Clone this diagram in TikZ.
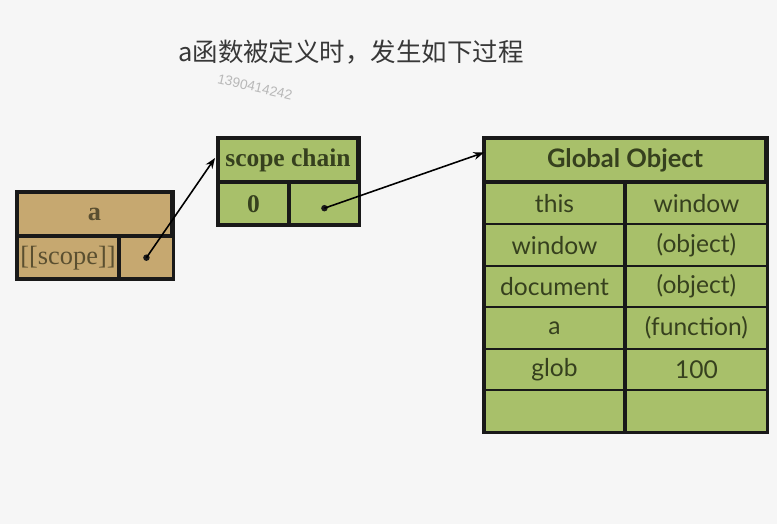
\documentclass[tikz,border=0pt]{standalone}
\usepackage{fontspec}
\setmainfont{Liberation Serif}
\newfontfamily\cjkfont{Noto Sans CJK SC}
\newfontfamily\tablefont{Lato}
\newfontfamily\markfont{Liberation Sans}
\usetikzlibrary{calc,arrows.meta,positioning}

\definecolor{bggray}{HTML}{F6F6F6}
\definecolor{tanfill}{HTML}{C6A870}
\definecolor{tantext}{HTML}{5A4F30}
\definecolor{greenfill}{HTML}{A8C06A}
\definecolor{greentext}{HTML}{36401E}

\tikzset{
    cell/.style={draw=black!90, line width=1.1pt, inner sep=0pt, minimum height=0.83cm},
    tancell/.style={cell, fill=tanfill, text=tantext},
    greencell/.style={cell, fill=greenfill, text=greentext},
    frame/.style={draw=black!90, line width=1.8pt},
    ptr/.style={-{Stealth[length=6pt,width=4.5pt]}, line width=0.9pt},
    ptrdot/.style={fill=black!90}
}

\begin{document}
\begin{tikzpicture}
    % Background and size
    \useasboundingbox[fill=bggray] (0,0) rectangle (15.54,-10.48);

    % Title
    \node[text=black!78, font=\cjkfont\fontsize{14.5}{16}\selectfont] (title) at (7.02,-1.04) {a函数被定义时，发生如下过程};
    \node[text=black!28, font=\markfont\fontsize{7.8}{9}\selectfont, rotate=-13] (mark) at (5.10,-1.74) {1390414242};

    % Function a
    \node[tancell, minimum width=3.06cm, minimum height=0.84cm, font=\bfseries\fontsize{15}{17}\selectfont] (aHead) at (1.89,-4.28) {a};
    \node[tancell, minimum width=2.00cm, font=\fontsize{15}{17}\selectfont, below right=0pt and 0pt of aHead.south west] (aName) {[[scope]]};
    \node[tancell, minimum width=1.06cm, right=0pt of aName] (aSlot) {};
    \draw[frame] (aHead.north west) rectangle (aSlot.south east);

    % Scope chain
    \node[greencell, minimum width=2.76cm, minimum height=0.84cm, font=\bfseries\fontsize{14.5}{17}\selectfont] (scHead) at (5.76,-3.20) {scope chain};
    \node[greencell, minimum width=1.38cm, font=\bfseries\fontsize{14.5}{17}\selectfont, below right=0pt and 0pt of scHead.south west] (scZero) {0};
    \node[greencell, minimum width=1.38cm, right=0pt of scZero] (scSlot) {};
    \draw[frame] (scHead.north west) rectangle (scSlot.south east);

    % Global object
    \node[greencell, minimum width=5.60cm, minimum height=0.84cm, font=\tablefont\bfseries\fontsize{14.5}{17}\selectfont] (goHead) at (12.50,-3.20) {Global Object};
    \foreach \key/\val [count=\i] in {this/window, window/{(object)}, document/{(object)}, a/{(function)}, glob/100, /} {
        \node[greencell, minimum width=2.78cm, anchor=north west, font=\tablefont\fontsize{14}{16}\selectfont] (goL\i) at ($(goHead.south west)+(0,{-0.83*(\i-1)})$) {\key};
        \node[greencell, minimum width=2.82cm, right=0pt of goL\i, font=\tablefont\fontsize{14}{16}\selectfont] (goR\i) {\val};
    }
    \draw[frame] (goHead.north west) rectangle (goR6.south east);

    % Pointers
    \coordinate (aPtr) at (aSlot.center);
    \coordinate (scPtr) at ([yshift=-0.09cm]scSlot.center);
    \fill[ptrdot] (aPtr) circle (0.065);
    \fill[ptrdot] (scPtr) circle (0.065);
    \draw[ptr] (aPtr) -- ([xshift=-0.06cm,yshift=0.04cm]scHead.west);
    \draw[ptr] (scPtr) -- ([yshift=0.15cm]goHead.west);
\end{tikzpicture}
\end{document}
